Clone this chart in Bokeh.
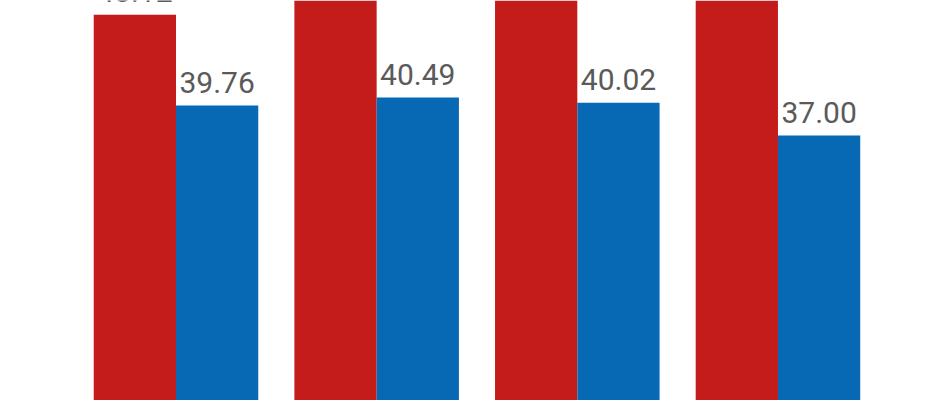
from bokeh.plotting import figure
from bokeh.models import ColumnDataSource, Range1d, LabelSet
from bokeh.embed import file_html
from bokeh.resources import INLINE
from bokeh.core.properties import value

groups = [0, 1, 2, 3]
red_values = [48.12, 53.6, 54.3, 55.1]
blue_values = [39.76, 40.49, 40.02, 37.00]

red_x = [g - 0.205 for g in groups]
blue_x = [g + 0.205 for g in groups]

red_src = ColumnDataSource(dict(x=red_x, top=red_values,
                                lab=[f"{v:.2f}" for v in red_values]))
blue_src = ColumnDataSource(dict(x=blue_x, top=blue_values,
                                 lab=[f"{v:.2f}" for v in blue_values]))

p = figure(width=940, height=400, output_backend="svg", toolbar_location=None,
           x_range=Range1d(-0.8746, 3.8100), y_range=Range1d(12.62, 49.42),
           min_border=0)
p.axis.visible = False
p.grid.visible = False
p.outline_line_color = None
p.background_fill_color = "white"
p.border_fill_color = "white"

p.vbar(x="x", top="top", bottom=0, width=0.41, source=red_src,
       fill_color="#C41B1B", line_color=None)
p.vbar(x="x", top="top", bottom=0, width=0.41, source=blue_src,
       fill_color="#0769B4", line_color=None)

for src in (red_src, blue_src):
    labels = LabelSet(x="x", y="top", text="lab", source=src,
                      text_align="center", text_baseline="alphabetic",
                      y_offset=13, text_font=value("Roboto"),
                      text_font_size="30px", text_color="#5a5a5a")
    p.add_layout(labels)

open("out.html", "w").write(file_html(p, INLINE))
